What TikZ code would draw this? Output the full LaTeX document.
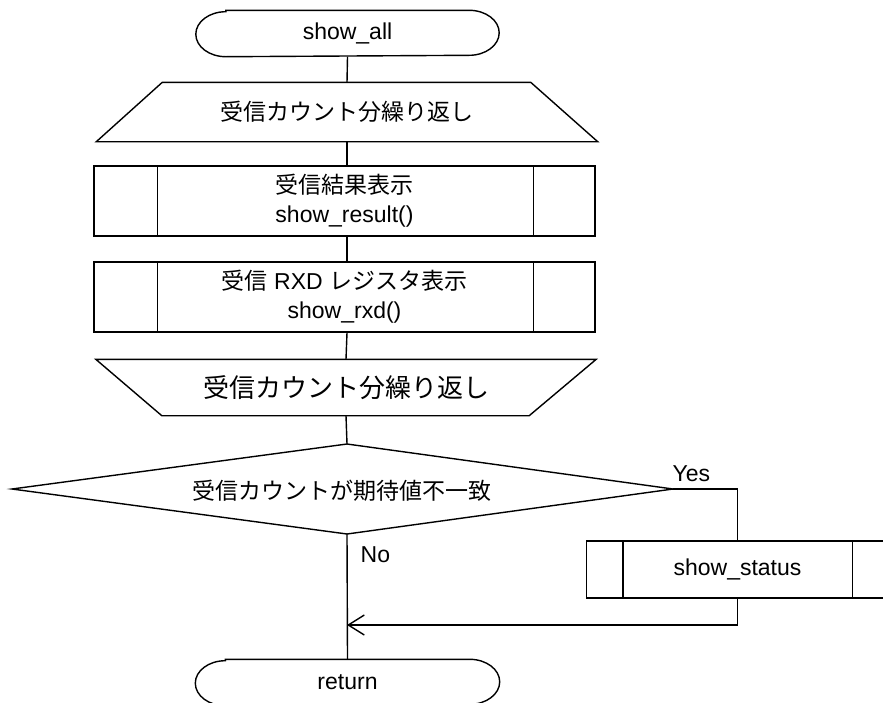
\documentclass[tikz,border=0pt]{standalone}
\usepackage{fontspec}
\setmainfont{Liberation Sans}
\newfontfamily\cjk{Noto Sans CJK JP}
\usetikzlibrary{arrows.meta,calc}
\begin{document}
\begin{tikzpicture}[x=1pt,y=-1pt,line width=1.4pt,
  lbl/.style={inner sep=0pt,font=\fontsize{23}{29}\selectfont,align=center},
  big/.style={inner sep=0pt,font=\fontsize{26}{32}\selectfont,align=center},
  conn/.style={line width=1.4pt},
  arr/.style={-{Straight Barb[length=16pt,width=20pt]}}]
\useasboundingbox (0,0) rectangle (883,702);
% start terminal
\node[lbl,minimum width=302pt,minimum height=45pt] (start) at (347.5,33.5) {show\_all};
\draw ([xshift=30pt]start.north west) -- ([xshift=-30pt]start.north east)
  arc[start angle=90,end angle=-90,x radius=30pt,y radius=22.5pt]
  -- ([xshift=30pt]start.south west)
  arc[start angle=-90,end angle=-270,x radius=30pt,y radius=22.5pt] -- cycle;
% loop start
\node[lbl,minimum width=500pt,minimum height=58pt] (loop1) at (347,112) {\cjk 受信カウント分繰り返し};
\draw ([xshift=66pt]loop1.north west) -- ([xshift=-67pt]loop1.north east)
  -- (loop1.south east) -- (loop1.south west) -- cycle;
% process 1
\node[lbl,draw,minimum width=501pt,minimum height=70pt] (r1) at (344.5,201) {{\cjk 受信結果表示}\\show\_result()};
\draw ([xshift=64pt]r1.north west) -- ([xshift=64pt]r1.south west)
      ([xshift=-62pt]r1.north east) -- ([xshift=-62pt]r1.south east);
% process 2
\node[lbl,draw,minimum width=501pt,minimum height=70pt] (r2) at (344.5,297) {{\cjk 受信} RXD {\cjk レジスタ表示}\\show\_rxd()};
\draw ([xshift=64pt]r2.north west) -- ([xshift=64pt]r2.south west)
      ([xshift=-62pt]r2.north east) -- ([xshift=-62pt]r2.south east);
% loop end
\node[big,minimum width=499pt,minimum height=55pt] (loop2) at (346,387.5) {\cjk 受信カウント分繰り返し};
\draw (loop2.north west) -- (loop2.north east) -- ([xshift=-67pt]loop2.south east)
  -- ([xshift=66pt]loop2.south west) -- cycle;
% decision
\coordinate (dT) at (347,444);
\coordinate (dR) at (673,489);
\coordinate (dB) at (347,534);
\coordinate (dL) at (12,489);
\draw (dT) -- (dR) -- (dB) -- (dL) -- cycle;
\node[lbl] (cond) at (342,491) {\cjk 受信カウントが期待値不一致};
\node[lbl,anchor=base west] (yes) at (672,481) {Yes};
\node[lbl,anchor=base west] (no) at (360,562) {No};
% show_status
\node[lbl,draw,minimum width=302pt,minimum height=57pt] (st) at (737.5,569.5) {show\_status};
\draw ([xshift=37pt]st.north west) -- ([xshift=37pt]st.south west)
      ([xshift=-37pt]st.north east) -- ([xshift=-37pt]st.south east);
% return terminal
\node[lbl,minimum width=303pt,minimum height=45pt] (ret) at (347.5,682.5) {return};
\draw ([xshift=30pt]ret.north west) -- ([xshift=-30pt]ret.north east)
  arc[start angle=90,end angle=-90,x radius=30pt,y radius=22.5pt]
  -- ([xshift=30pt]ret.south west)
  arc[start angle=-90,end angle=-270,x radius=30pt,y radius=22.5pt] -- cycle;
% connectors
\draw[conn] (start.south) -- (loop1.north);
\draw[conn] (loop1.south) -- (loop1.south |- r1.north);
\draw[conn] (loop1.south |- r1.south) -- (loop1.south |- r2.north);
\draw[conn] (loop1.south |- r2.south) -- (loop2.north);
\draw[conn] (loop2.south) -- (dT);
\draw[conn] (dR) -| (st.north);
\coordinate (join) at (347,625);
\draw[conn,arr] (st.south) |- (join);
\draw[conn] (dB) -- (ret.north);
\end{tikzpicture}
\end{document}
